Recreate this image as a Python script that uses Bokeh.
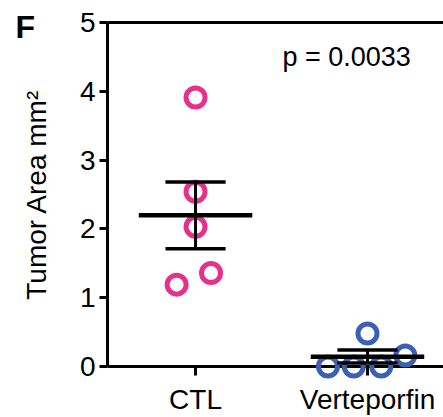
from bokeh.plotting import figure
from bokeh.models import LinearAxis, FixedTicker, Range1d
from bokeh.core.properties import value
from bokeh.embed import file_html
from bokeh.resources import INLINE

# ---- data ----
categories = ["CTL", "Verteporfin"]
ctl_values = [3.91, 2.54, 2.03, 1.36, 1.19]
ctl_jitter = [0.0, 0.0, 0.0, 0.09, -0.11]
vert_values = [0.48, 0.16, 0.0, 0.0, 0.0]
vert_jitter = [0.0, 0.22, -0.23, -0.08, 0.08]
means = [2.20, 0.14]
sem_upper = [2.68, 0.24]
sem_lower = [1.71, 0.05]
y_ticks = [0, 1, 2, 3, 4, 5]
p_text = "p = 0.0033"
panel_letter = "F"
colors = ["#E6318C", "#3B62B2"]

FONT = "Liberation Sans"
cat_x = [i + 1 for i in range(len(categories))]

# layout (pixels)
W, H = 443, 417
LEFT, TOP, BOTTOM = 107, 22, 50
X0, X1 = 0.488, 2.442
Y0, Y1 = 0.0, 5.0
frame_w = W - LEFT
frame_h = H - TOP - BOTTOM


def px_to_x(px):
    return X0 + (px - LEFT) / frame_w * (X1 - X0)


def py_to_y(py):
    return Y1 - (py - TOP) / frame_h * (Y1 - Y0)


p = figure(width=W, height=H, output_backend="svg", toolbar_location=None,
           x_range=Range1d(X0, X1), y_range=Range1d(Y0, Y1),
           min_border_left=LEFT, min_border_top=TOP, min_border_bottom=BOTTOM,
           min_border_right=0)
p.outline_line_color = None
p.grid.visible = False
p.background_fill_color = "white"
p.border_fill_color = "white"

# points (overlay level so edge markers are not clipped)
groups = [(ctl_values, ctl_jitter), (vert_values, vert_jitter)]
for gi, (vals, jit) in enumerate(groups):
    xs = [cat_x[gi] + j for j in jit]
    r = p.scatter(xs, vals, marker="circle", size=19, fill_color=None,
                  line_color=colors[gi], line_width=5)
    r.level = "overlay"

# error bars and mean lines
cap_half = 0.175
mean_half = 0.33
r = p.segment(cat_x, sem_lower, cat_x, sem_upper, line_color="black", line_width=3)
r.level = "overlay"
r = p.segment([x - cap_half for x in cat_x], sem_upper, [x + cap_half for x in cat_x], sem_upper,
              line_color="black", line_width=3.5)
r.level = "overlay"
r = p.segment([x - cap_half for x in cat_x], sem_lower, [x + cap_half for x in cat_x], sem_lower,
              line_color="black", line_width=3.5)
r.level = "overlay"
r = p.segment([x - mean_half for x in cat_x], means, [x + mean_half for x in cat_x], means,
              line_color="black", line_width=4.5)
r.level = "overlay"

# x axis
xa = p.xaxis[0]
xa.ticker = FixedTicker(ticks=cat_x)
xa.major_label_overrides = {x: c for x, c in zip(cat_x, categories)}
xa.minor_tick_line_color = None
xa.major_tick_in = 0
xa.major_tick_out = 9
xa.major_tick_line_width = 3
xa.axis_line_width = 3
xa.major_label_text_font = FONT
xa.major_label_text_font_size = "28px"
xa.major_label_text_color = "black"
xa.major_label_standoff = 8

# y axis
ya = p.yaxis[0]
ya.ticker = FixedTicker(ticks=y_ticks)
ya.minor_tick_line_color = None
ya.major_tick_in = 0
ya.major_tick_out = 8
ya.major_tick_line_width = 3
ya.axis_line_width = 3
ya.major_label_text_font = FONT
ya.major_label_text_font_size = "28px"
ya.major_label_text_color = "black"
ya.major_label_standoff = 4
ya.axis_label = "Tumor Area mm\u00b2"
ya.axis_label_text_font = FONT
ya.axis_label_text_font_size = "28px"
ya.axis_label_text_font_style = "normal"
ya.axis_label_text_color = "black"
ya.axis_label_standoff = 25

# top line
top = LinearAxis(ticker=FixedTicker(ticks=[]), major_tick_out=0, major_tick_in=0,
                 minor_tick_line_color=None, major_label_text_font_size="0px",
                 axis_line_width=3)
p.add_layout(top, "above")

# panel letter and p-value (text glyphs at overlay level, not clipped)
t = p.text(x=[px_to_x(15)], y=[py_to_y(27)], text=[panel_letter],
           text_font=value(FONT), text_font_size="32px", text_font_style="bold",
           text_color="black", text_baseline="alphabetic", text_align="left")
t.level = "overlay"
t = p.text(x=[px_to_x(282)], y=[py_to_y(57)], text=[p_text],
           text_font=value(FONT), text_font_size="27px",
           text_color="black", text_baseline="alphabetic", text_align="left")
t.level = "overlay"

open("out.html", "w").write(file_html(p, INLINE))
